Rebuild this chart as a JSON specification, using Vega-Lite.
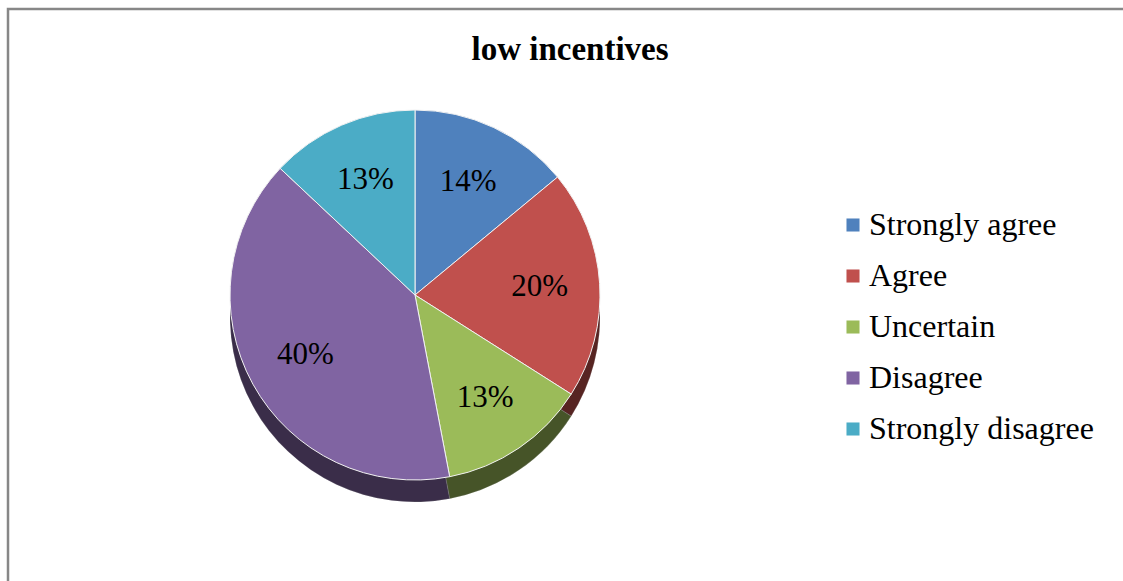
{
  "$schema": "https://vega.github.io/schema/vega-lite/v6.json",
  "autosize": {"type": "none"},
  "width": 814,
  "height": 572,
  "padding": {"left": 8, "top": 9, "right": 301, "bottom": 0},
  "background": "white",
  "title": {
    "text": "low incentives",
    "font": "Liberation Serif",
    "fontSize": 33,
    "fontWeight": "bold",
    "color": "black",
    "anchor": "middle",
    "frame": "group",
    "dx": 155,
    "offset": -85,
    "baseline": "alphabetic"
  },
  "data": {
    "values": [
      {"response": "Strongly agree", "percent": 14, "order": 1, "label": "14%"},
      {"response": "Agree", "percent": 20, "order": 2, "label": "20%"},
      {"response": "Uncertain", "percent": 13, "order": 3, "label": "13%"},
      {"response": "Disagree", "percent": 40, "order": 4, "label": "40%"},
      {"response": "Strongly disagree", "percent": 13, "order": 5, "label": "13%"}
    ]
  },
  "encoding": {
    "theta": {"field": "percent", "type": "quantitative", "stack": true},
    "order": {"field": "order", "type": "quantitative"},
    "color": {
      "field": "response",
      "type": "nominal",
      "scale": {
        "domain": ["Strongly agree", "Agree", "Uncertain", "Disagree", "Strongly disagree"],
        "range": ["#4F81BD", "#C0504D", "#9BBB59", "#8064A2", "#4BACC6"]
      },
      "legend": {
        "orient": "none",
        "legendX": 0,
        "legendY": 0,
        "title": "\u00a0",
        "titleOrient": "left",
        "titleFontSize": 1,
        "titlePadding": 629,
        "padding": 200,
        "strokeColor": "#878787",
        "labelFont": "Liberation Serif",
        "labelFontSize": 32,
        "labelColor": "black",
        "labelLimit": 400,
        "labelOffset": 0,
        "symbolType": "square",
        "symbolSize": 170,
        "symbolStrokeWidth": 0,
        "rowPadding": 19,
        "encode": {"legend": {"update": {"strokeWidth": {"value": 2.5}, "strokeDash": {"value": [1112, 20000]}}}}
      }
    }
  },
  "layer": [
    {
      "mark": {"type": "arc", "radius": 185, "yOffset": 22, "stroke": "white", "strokeWidth": 0.5}
    },
    {
      "mark": {"type": "arc", "radius": 185, "yOffset": 22, "fill": "black", "fillOpacity": 0.55},
      "encoding": {"color": {"value": "black"}}
    },
    {
      "mark": {"type": "arc", "radius": 185, "stroke": "#f2f2f2", "strokeWidth": 1}
    },
    {
      "mark": {"type": "text", "radius": 125, "font": "Liberation Serif", "fontSize": 31},
      "encoding": {
        "text": {"field": "label", "type": "nominal"},
        "color": {"value": "black"}
      }
    }
  ],
  "config": {
    "view": {"stroke": "#878787", "strokeWidth": 2.5, "strokeDash": [0, 2200, 572]},
    "legend": {"strokeWidth": 2.5}
  }
}
